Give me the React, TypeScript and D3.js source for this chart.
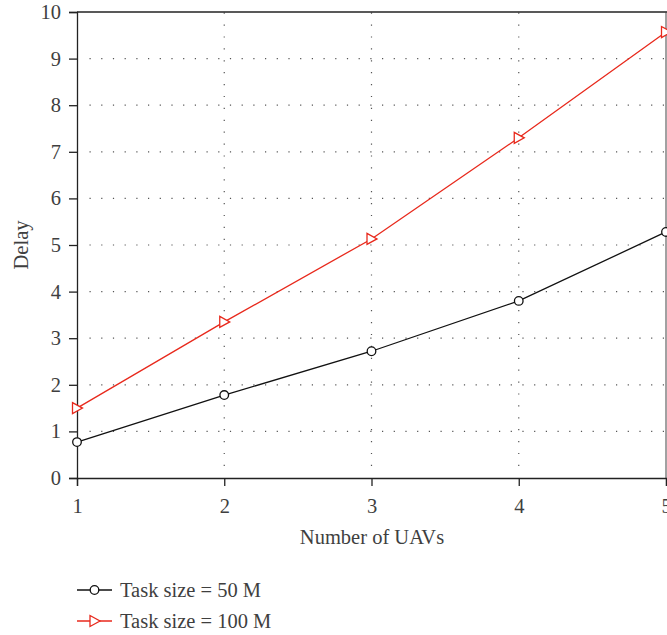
import * as d3 from "d3";
import { useEffect, useRef } from "react";

const uavCounts = [1, 2, 3, 4, 5];
const delay50 = [0.77, 1.78, 2.72, 3.8, 5.28];
const delay100 = [1.5, 3.35, 5.13, 7.3, 9.57];
const yTicks = [0, 1, 2, 3, 4, 5, 6, 7, 8, 9, 10];
const seriesNames = ["Task size = 50 M", "Task size = 100 M"];

export default function App() {
	const ref = useRef<SVGSVGElement>(null);

	useEffect(() => {
		const svg = d3.select(ref.current);
		svg.selectAll("*").remove();

		const left = 77, right = 666, top = 12, bottom = 478;
		const font = "'Liberation Serif', 'DejaVu Serif', serif";
		const textColor = "#3f3f3f";
		const fs = 20.5;

		const x = d3.scaleLinear().domain([1, 5]).range([left, right]);
		const y = d3.scaleLinear().domain([0, 10]).range([bottom, top]);

		// dotted grid
		const grid = svg.append("g").attr("stroke", "#555").attr("stroke-width", 1.2).attr("stroke-dasharray", "1.2,10.5");
		yTicks.slice(1, -1).forEach(t => {
			grid.append("line").attr("x1", left + 12.5).attr("x2", right).attr("y1", y(t)).attr("y2", y(t));
		});
		uavCounts.slice(1, -1).forEach(t => {
			grid.append("line").attr("x1", x(t)).attr("x2", x(t)).attr("y1", bottom - 12).attr("y2", top).attr("stroke-dasharray", "1.2,10.7");
		});

		// frame
		svg.append("line").attr("x1", left).attr("x2", right + 1).attr("y1", top).attr("y2", top).attr("stroke", "#222").attr("stroke-width", 1.3);
		svg.append("line").attr("x1", right).attr("x2", right).attr("y1", top).attr("y2", bottom).attr("stroke", "#444").attr("stroke-width", 1);

		// y axis
		const yAxis = d3.axisLeft(y).tickValues(yTicks).tickSize(8).tickPadding(8).tickFormat(d3.format("d"));
		const gy = svg.append("g").attr("transform", `translate(${left},0)`).call(yAxis);
		// x axis
		const xAxis = d3.axisBottom(x).tickValues(uavCounts).tickSize(8).tickPadding(12).tickFormat(d3.format("d"));
		const gx = svg.append("g").attr("transform", `translate(0,${bottom})`).call(xAxis);

		[gx, gy].forEach(g => {
			g.select(".domain").attr("stroke", "#222").attr("stroke-width", 1.3);
			g.selectAll(".tick line").attr("stroke", "#222").attr("stroke-width", 1.3);
			g.selectAll(".tick text").attr("font-family", font).attr("font-size", fs).attr("fill", textColor);
		});

		// axis titles
		svg.append("text").attr("x", 372).attr("y", 544).attr("text-anchor", "middle")
			.attr("font-family", font).attr("font-size", fs).attr("fill", textColor).text("Number of UAVs");
		svg.append("text").attr("transform", `translate(28,${(top + bottom) / 2}) rotate(-90)`).attr("text-anchor", "middle")
			.attr("font-family", font).attr("font-size", fs).attr("fill", textColor).text("Delay");

		const line = d3.line<number>().x((_, i) => x(uavCounts[i])).y(d => y(d));
		const tri = (cx: number, cy: number) => `M${cx - 4.5},${cy - 5.5}L${cx + 5.5},${cy}L${cx - 4.5},${cy + 5.5}Z`;

		// series 50 M
		svg.append("path").datum(delay50).attr("fill", "none").attr("stroke", "#111").attr("stroke-width", 1.3).attr("d", line);
		svg.append("g").selectAll("circle").data(delay50).join("circle")
			.attr("cx", (_, i) => x(uavCounts[i])).attr("cy", d => y(d)).attr("r", 4.3)
			.attr("fill", "white").attr("stroke", "#111").attr("stroke-width", 1.3);

		// series 100 M
		svg.append("path").datum(delay100).attr("fill", "none").attr("stroke", "#e8291c").attr("stroke-width", 1.3).attr("d", line);
		svg.append("g").selectAll("path").data(delay100).join("path")
			.attr("d", (d, i) => tri(x(uavCounts[i]), y(d)))
			.attr("fill", "white").attr("stroke", "#e8291c").attr("stroke-width", 1.3);

		// legend
		const legend = svg.append("g");
		const rows = [590, 621];
		legend.append("line").attr("x1", 77).attr("x2", 112).attr("y1", rows[0]).attr("y2", rows[0]).attr("stroke", "#111").attr("stroke-width", 1.3);
		legend.append("circle").attr("cx", 94.5).attr("cy", rows[0]).attr("r", 4.3).attr("fill", "white").attr("stroke", "#111").attr("stroke-width", 1.3);
		legend.append("line").attr("x1", 77).attr("x2", 112).attr("y1", rows[1]).attr("y2", rows[1]).attr("stroke", "#e8291c").attr("stroke-width", 1.3);
		legend.append("path").attr("d", tri(94.5, rows[1])).attr("fill", "white").attr("stroke", "#e8291c").attr("stroke-width", 1.3);
		seriesNames.forEach((name, i) => {
			legend.append("text").attr("x", 120).attr("y", rows[i]).attr("dy", "0.35em")
				.attr("font-family", font).attr("font-size", fs).attr("fill", textColor).text(name);
		});
	}, []);

	return <svg ref={ref} width={667} height={635} style={{ position: "absolute", left: 0, top: 0, background: "white" }} />;
}
